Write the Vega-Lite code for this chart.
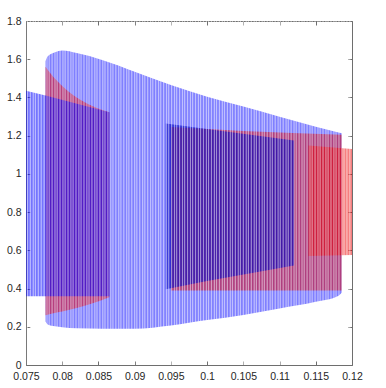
{
  "$schema": "https://vega.github.io/schema/vega-lite/v6.json",
  "width": 326,
  "height": 344,
  "autosize": "none",
  "padding": {"left": 26, "top": 21, "right": 34, "bottom": 23},
  "background": "white",
  "config": {
    "view": {"stroke": "#6e6e6e", "strokeWidth": 1},
    "axis": {
      "grid": false,
      "domain": false,
      "tickColor": "#6e6e6e",
      "tickSize": -4,
      "labelFont": "Liberation Sans",
      "labelFontSize": 10.5,
      "labelColor": "#262626",
      "labelOverlap": false,
      "labelFlush": false,
      "title": null
    }
  },
  "datasets": {
    "bands": [
      {"band": "A", "x": 0.0777, "hi": 1.59, "lo": 0.227},
      {"band": "A", "x": 0.0780, "hi": 1.615, "lo": 0.212},
      {"band": "A", "x": 0.0790, "hi": 1.637, "lo": 0.203},
      {"band": "A", "x": 0.0800, "hi": 1.645, "lo": 0.198},
      {"band": "A", "x": 0.0820, "hi": 1.632, "lo": 0.192},
      {"band": "A", "x": 0.0855, "hi": 1.596, "lo": 0.19},
      {"band": "A", "x": 0.0900, "hi": 1.535, "lo": 0.19},
      {"band": "A", "x": 0.0950, "hi": 1.465, "lo": 0.207},
      {"band": "A", "x": 0.1000, "hi": 1.404, "lo": 0.235},
      {"band": "A", "x": 0.1050, "hi": 1.352, "lo": 0.262},
      {"band": "A", "x": 0.1100, "hi": 1.299, "lo": 0.296},
      {"band": "A", "x": 0.1150, "hi": 1.247, "lo": 0.331},
      {"band": "A", "x": 0.1180, "hi": 1.218, "lo": 0.36},
      {"band": "A", "x": 0.1186, "hi": 1.212, "lo": 0.38},
      {"band": "B", "x": 0.0750, "hi": 1.435, "lo": 0.36},
      {"band": "B", "x": 0.0777, "hi": 1.41, "lo": 0.36},
      {"band": "B", "x": 0.0865, "hi": 1.322, "lo": 0.36},
      {"band": "C", "x": 0.0777, "hi": 1.56, "lo": 0.26},
      {"band": "C", "x": 0.0785, "hi": 1.52, "lo": 0.268},
      {"band": "C", "x": 0.0800, "hi": 1.46, "lo": 0.28},
      {"band": "C", "x": 0.0820, "hi": 1.40, "lo": 0.298},
      {"band": "C", "x": 0.0840, "hi": 1.358, "lo": 0.32},
      {"band": "C", "x": 0.0865, "hi": 1.322, "lo": 0.355},
      {"band": "D", "x": 0.0943, "hi": 1.264, "lo": 0.397},
      {"band": "D", "x": 0.1000, "hi": 1.235, "lo": 0.44},
      {"band": "D", "x": 0.1060, "hi": 1.205, "lo": 0.48},
      {"band": "D", "x": 0.1120, "hi": 1.175, "lo": 0.52},
      {"band": "E", "x": 0.0950, "hi": 1.245, "lo": 0.39},
      {"band": "E", "x": 0.1050, "hi": 1.225, "lo": 0.39},
      {"band": "E", "x": 0.1186, "hi": 1.205, "lo": 0.39},
      {"band": "F", "x": 0.1140, "hi": 1.148, "lo": 0.57},
      {"band": "F", "x": 0.1200, "hi": 1.13, "lo": 0.575}
    ],
    "stripes": [
      {"x": 0.0752}, {"x": 0.0756}, {"x": 0.0760}, {"x": 0.0763}, {"x": 0.0767}, {"x": 0.0771}, {"x": 0.0775}, {"x": 0.0779}, {"x": 0.0782}, {"x": 0.0786},
      {"x": 0.0790}, {"x": 0.0793}, {"x": 0.0797}, {"x": 0.0801}, {"x": 0.0804}, {"x": 0.0808}, {"x": 0.0812}, {"x": 0.0815}, {"x": 0.0819}, {"x": 0.0823},
      {"x": 0.0826}, {"x": 0.0830}, {"x": 0.0834}, {"x": 0.0837}, {"x": 0.0841}, {"x": 0.0845}, {"x": 0.0848}, {"x": 0.0852}, {"x": 0.0856}, {"x": 0.0859},
      {"x": 0.0863}, {"x": 0.0867}, {"x": 0.0870}, {"x": 0.0874}, {"x": 0.0878}, {"x": 0.0881}, {"x": 0.0885}, {"x": 0.0889}, {"x": 0.0892}, {"x": 0.0896},
      {"x": 0.0900}, {"x": 0.0903}, {"x": 0.0907}, {"x": 0.0911}, {"x": 0.0914}, {"x": 0.0918}, {"x": 0.0922}, {"x": 0.0925}, {"x": 0.0929}, {"x": 0.0933},
      {"x": 0.0936}, {"x": 0.0940}, {"x": 0.0944}, {"x": 0.0947}, {"x": 0.0951}, {"x": 0.0955}, {"x": 0.0958}, {"x": 0.0962}, {"x": 0.0966}, {"x": 0.0969},
      {"x": 0.0973}, {"x": 0.0977}, {"x": 0.0980}, {"x": 0.0984}, {"x": 0.0988}, {"x": 0.0991}, {"x": 0.0995}, {"x": 0.0999}, {"x": 0.1002}, {"x": 0.1006},
      {"x": 0.1010}, {"x": 0.1013}, {"x": 0.1017}, {"x": 0.1021}, {"x": 0.1024}, {"x": 0.1028}, {"x": 0.1032}, {"x": 0.1035}, {"x": 0.1039}, {"x": 0.1043},
      {"x": 0.1046}, {"x": 0.1050}, {"x": 0.1054}, {"x": 0.1057}, {"x": 0.1061}, {"x": 0.1065}, {"x": 0.1068}, {"x": 0.1072}, {"x": 0.1076}, {"x": 0.1079},
      {"x": 0.1083}, {"x": 0.1087}, {"x": 0.1090}, {"x": 0.1094}, {"x": 0.1098}, {"x": 0.1101}, {"x": 0.1105}, {"x": 0.1109}, {"x": 0.1112}, {"x": 0.1116},
      {"x": 0.1120}, {"x": 0.1123}, {"x": 0.1127}, {"x": 0.1131}, {"x": 0.1134}, {"x": 0.1138}, {"x": 0.1142}, {"x": 0.1145}, {"x": 0.1149}, {"x": 0.1153},
      {"x": 0.1156}, {"x": 0.1160}, {"x": 0.1164}, {"x": 0.1167}, {"x": 0.1171}, {"x": 0.1175}, {"x": 0.1178}, {"x": 0.1182}, {"x": 0.1186}, {"x": 0.1189},
      {"x": 0.1193}, {"x": 0.1197}
    ],
    "dummy": [{"x": 0.1, "hi": 1}]
  },
  "resolve": {"axis": {"x": "independent", "y": "independent"}},
  "layer": [
    {
      "encoding": {
        "x": {
          "field": "x", "type": "quantitative",
          "scale": {"domain": [0.075, 0.12], "nice": false, "zero": false},
          "axis": {
            "values": [0.075, 0.08, 0.085, 0.09, 0.095, 0.1, 0.105, 0.11, 0.115, 0.12],
            "labelExpr": "datum.value + ''",
            "labelPadding": 10
          }
        }
      },
      "layer": [
        {
          "data": {"name": "bands"},
          "transform": [{"filter": "datum.band == 'A'"}],
          "mark": {"type": "area", "color": "#0000ff", "opacity": 0.5, "interpolate": "monotone"},
          "encoding": {
            "y": {"field": "hi", "type": "quantitative", "stack": null,
              "scale": {"domain": [0, 1.8], "nice": false},
              "axis": {"values": [0, 0.2, 0.4, 0.6, 0.8, 1, 1.2, 1.4, 1.6, 1.8], "labelExpr": "datum.value + ''", "labelPadding": 9}},
            "y2": {"field": "lo"}
          }
        },
        {
          "data": {"name": "bands"},
          "transform": [{"filter": "datum.band == 'C'"}],
          "mark": {"type": "area", "color": "#ee0000", "opacity": 0.5, "interpolate": "monotone"},
          "encoding": {"y": {"field": "hi", "type": "quantitative", "stack": null,
              "axis": {"values": [0, 0.2, 0.4, 0.6, 0.8, 1, 1.2, 1.4, 1.6, 1.8], "labelExpr": "datum.value + ''", "labelPadding": 9}}, "y2": {"field": "lo"}}
        },
        {
          "data": {"name": "bands"},
          "transform": [{"filter": "datum.band == 'E'"}],
          "mark": {"type": "area", "color": "#e00000", "opacity": 0.5, "interpolate": "monotone"},
          "encoding": {"y": {"field": "hi", "type": "quantitative", "stack": null,
              "axis": {"values": [0, 0.2, 0.4, 0.6, 0.8, 1, 1.2, 1.4, 1.6, 1.8], "labelExpr": "datum.value + ''", "labelPadding": 9}}, "y2": {"field": "lo"}}
        },
        {
          "data": {"name": "bands"},
          "transform": [{"filter": "datum.band == 'B'"}],
          "mark": {"type": "area", "color": "#0000ff", "opacity": 0.55, "interpolate": "linear"},
          "encoding": {"y": {"field": "hi", "type": "quantitative", "stack": null,
              "axis": {"values": [0, 0.2, 0.4, 0.6, 0.8, 1, 1.2, 1.4, 1.6, 1.8], "labelExpr": "datum.value + ''", "labelPadding": 9}}, "y2": {"field": "lo"}}
        },
        {
          "data": {"name": "bands"},
          "transform": [{"filter": "datum.band == 'D'"}],
          "mark": {"type": "area", "color": "#0000c0", "opacity": 0.62, "interpolate": "linear"},
          "encoding": {"y": {"field": "hi", "type": "quantitative", "stack": null,
              "axis": {"values": [0, 0.2, 0.4, 0.6, 0.8, 1, 1.2, 1.4, 1.6, 1.8], "labelExpr": "datum.value + ''", "labelPadding": 9}}, "y2": {"field": "lo"}}
        },
        {
          "data": {"name": "bands"},
          "transform": [{"filter": "datum.band == 'F'"}],
          "mark": {"type": "area", "color": "#ee0000", "opacity": 0.5, "interpolate": "linear"},
          "encoding": {"y": {"field": "hi", "type": "quantitative", "stack": null,
              "axis": {"values": [0, 0.2, 0.4, 0.6, 0.8, 1, 1.2, 1.4, 1.6, 1.8], "labelExpr": "datum.value + ''", "labelPadding": 9}}, "y2": {"field": "lo"}}
        },
        {
          "data": {"name": "stripes"},
          "mark": {"type": "rule", "color": "white", "strokeWidth": 1.2, "opacity": 0.5},
          "encoding": {}
        }
      ]
    },
    {
      "data": {"name": "dummy"},
      "mark": {"type": "point", "opacity": 0},
      "encoding": {
        "x": {"field": "x", "type": "quantitative",
          "axis": {"orient": "top", "labels": false,
            "values": [0.075, 0.08, 0.085, 0.09, 0.095, 0.1, 0.105, 0.11, 0.115, 0.12]}},
        "y": {"field": "hi", "type": "quantitative",
          "axis": {"orient": "right", "labels": false,
            "values": [0, 0.2, 0.4, 0.6, 0.8, 1, 1.2, 1.4, 1.6, 1.8]}}
      }
    }
  ]
}
